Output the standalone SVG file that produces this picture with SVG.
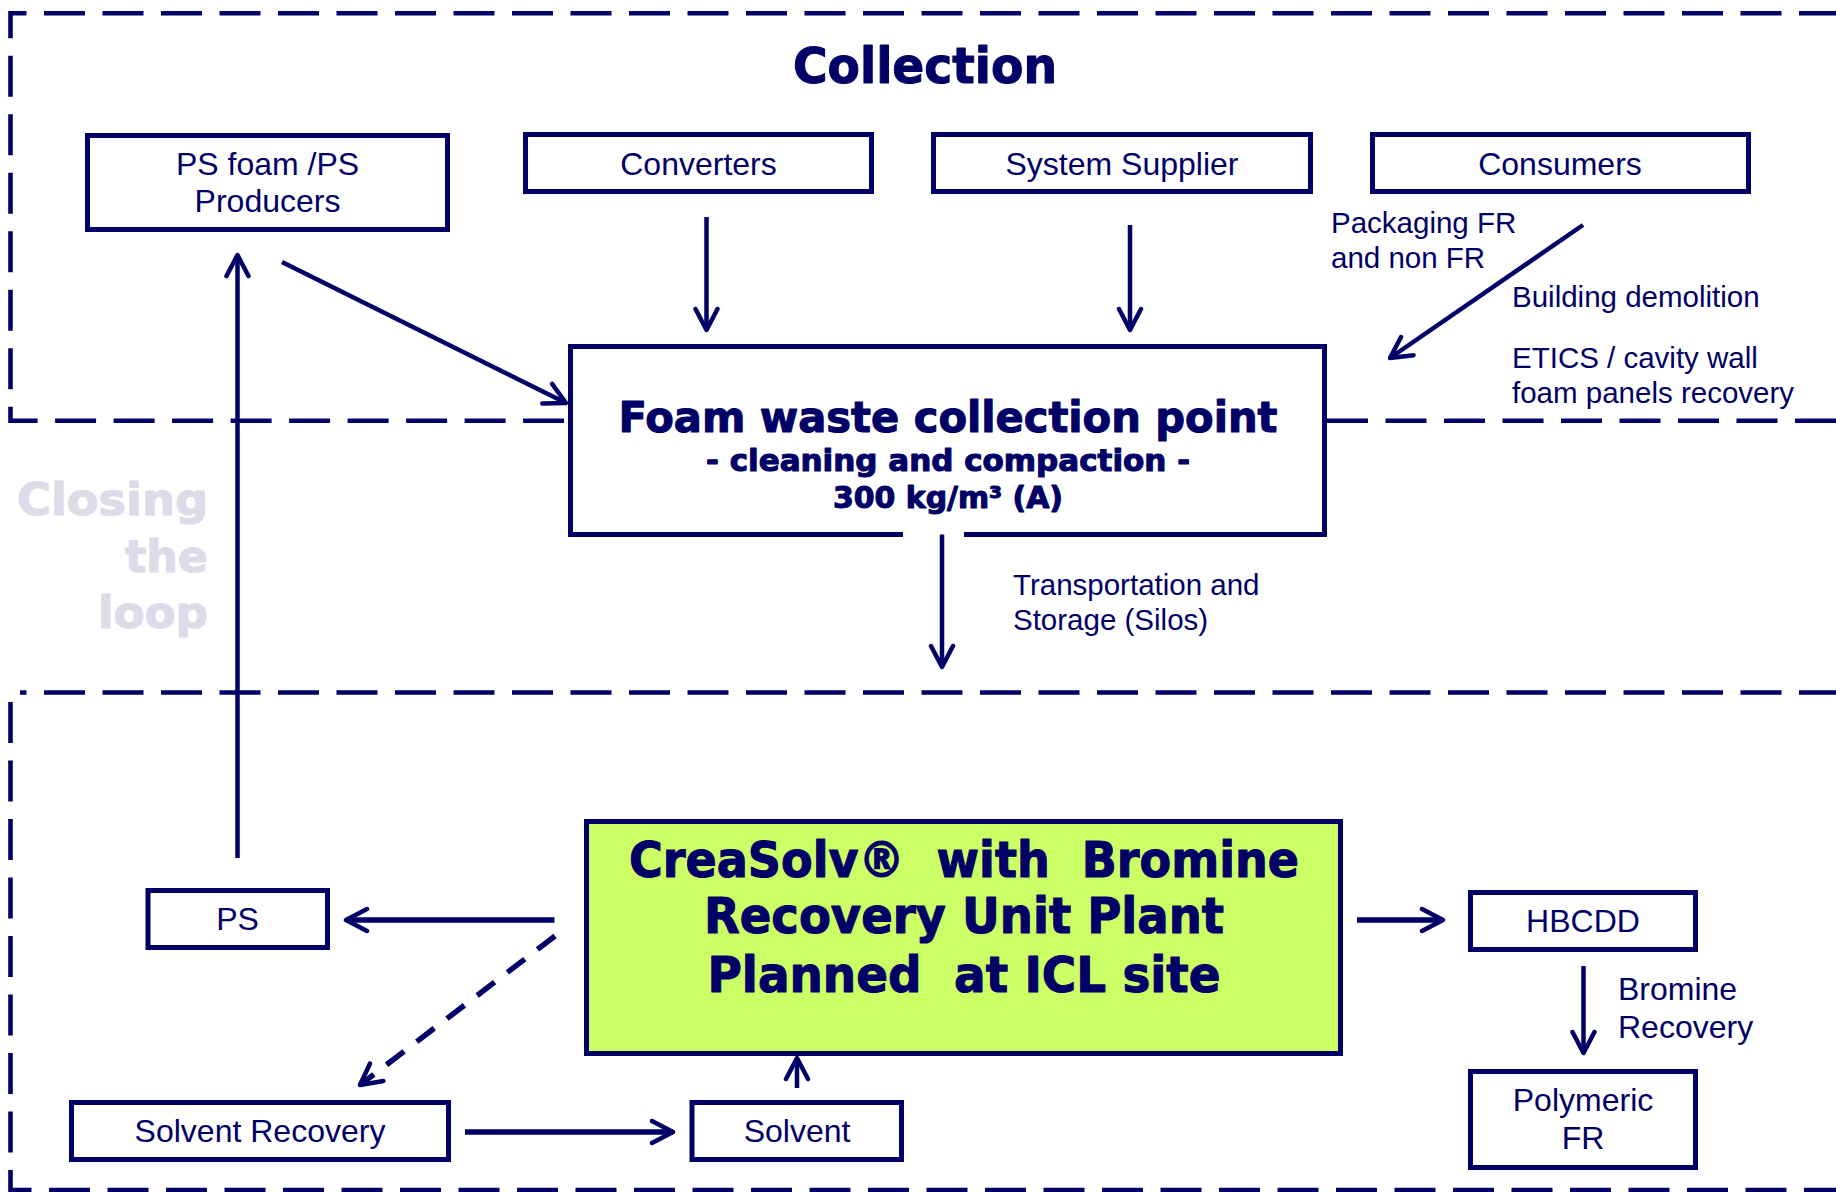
<svg xmlns="http://www.w3.org/2000/svg" width="1836" height="1192" viewBox="0 0 1836 1192">
<style>
.bg{fill:#ffffff}
.zone{fill:none;stroke:#000066;stroke-width:4.6;stroke-dasharray:41 17.5}
.box{fill:#ffffff;stroke:#000066;stroke-width:5}
.green{fill:#ccff66;stroke:#000066;stroke-width:5}
.edge{fill:none;stroke:#000066;stroke-width:4.5}
.thick{stroke-width:5.5}
.dash{stroke-dasharray:22 16}
.t{font-family:"Liberation Sans",Arial,sans-serif;fill:#000066;font-size:32px;text-anchor:middle}
.lbl{font-family:"Liberation Sans",Arial,sans-serif;fill:#000066;font-size:29.5px}
.lbl2{font-family:"Liberation Sans",Arial,sans-serif;fill:#000066;font-size:32px}
.b{font-family:"DejaVu Sans","Liberation Sans",sans-serif;font-weight:bold;fill:#000066;stroke:#000066;stroke-width:1.1;stroke-linejoin:round;text-anchor:middle;white-space:pre}
.loop{font-family:"DejaVu Sans","Liberation Sans",sans-serif;font-weight:bold;fill:#dcdce9;stroke:#dcdce9;stroke-width:1.2;stroke-linejoin:round;font-size:44px;text-anchor:end}
</style>
<defs>
<marker id="ah" viewBox="-26 -14 30 28" markerWidth="30" markerHeight="28" refX="0" refY="0" orient="auto" markerUnits="userSpaceOnUse">
<path d="M-21,-11 L0,0 L-21,11" fill="none" stroke="#000066" stroke-width="4.5" stroke-linecap="round" stroke-linejoin="round"/>
</marker>
</defs>
<rect class="bg" x="0" y="0" width="1836" height="1192"/>

<g id="zones">
<path class="zone" d="M1840,13.3 H10.5 V420.7 H569"/>
<path class="zone" d="M1327,420.7 H1840"/>
<path class="zone" d="M1840,692.5 H20"/>
<path class="zone" d="M10.5,702 V1190 H1840"/>
</g>

<text class="b" x="925" y="83" font-size="50" textLength="264" lengthAdjust="spacingAndGlyphs">Collection</text>
<g id="closing-label">
<text class="loop" x="208" y="515" textLength="191" lengthAdjust="spacingAndGlyphs">Closing</text>
<text class="loop" x="208" y="572" textLength="83" lengthAdjust="spacingAndGlyphs">the</text>
<text class="loop" x="208" y="628" textLength="110" lengthAdjust="spacingAndGlyphs">loop</text>
</g>

<g id="connectors">
<line class="edge" x1="282" y1="262" x2="566" y2="403" marker-end="url(#ah)"/>
<line class="edge" x1="706.5" y1="217" x2="706.5" y2="330" marker-end="url(#ah)"/>
<line class="edge" x1="1130" y1="225" x2="1130" y2="330" marker-end="url(#ah)"/>
<line class="edge" x1="1583" y1="225" x2="1390" y2="358" marker-end="url(#ah)"/>
<line class="edge" x1="942" y1="532" x2="942" y2="667" marker-end="url(#ah)"/>
<line class="edge" x1="237.5" y1="858" x2="237.5" y2="255" marker-end="url(#ah)"/>
<line class="edge thick" x1="554.5" y1="920" x2="346" y2="920" marker-end="url(#ah)"/>
<line class="edge thick dash" x1="555" y1="936" x2="360" y2="1085" marker-end="url(#ah)"/>
<line class="edge thick" x1="465" y1="1132" x2="673" y2="1132" marker-end="url(#ah)"/>
<line class="edge" x1="797" y1="1088" x2="797" y2="1058" marker-end="url(#ah)"/>
<line class="edge thick" x1="1357" y1="920" x2="1443" y2="920" marker-end="url(#ah)"/>
<line class="edge" x1="1583.5" y1="966" x2="1583.5" y2="1053" marker-end="url(#ah)"/>
</g>

<g id="ps-foam-producers">
<rect class="box" x="87.5" y="135.5" width="360" height="94"/>
<text class="t" x="267.5" y="175">PS foam /PS</text>
<text class="t" x="267.5" y="212">Producers</text>
</g>
<g id="converters">
<rect class="box" x="525.5" y="134.5" width="346" height="57"/>
<text class="t" x="698.5" y="175">Converters</text>
</g>
<g id="system-supplier">
<rect class="box" x="933.5" y="134.5" width="377" height="57"/>
<text class="t" x="1122" y="175">System Supplier</text>
</g>
<g id="consumers">
<rect class="box" x="1372.5" y="134.5" width="376" height="57"/>
<text class="t" x="1560" y="175">Consumers</text>
</g>

<g id="labels">
<text class="lbl" x="1331" y="233">Packaging FR</text>
<text class="lbl" x="1331" y="268">and non FR</text>
<text class="lbl" x="1512" y="307">Building demolition</text>
<text class="lbl" x="1512" y="368">ETICS / cavity wall</text>
<text class="lbl" x="1512" y="403">foam panels recovery</text>
<text class="lbl" x="1013" y="595">Transportation and</text>
<text class="lbl" x="1013" y="630">Storage (Silos)</text>
<text class="lbl2" x="1618" y="1000">Bromine</text>
<text class="lbl2" x="1618" y="1038">Recovery</text>
</g>

<g id="collection-point">
<rect x="570.5" y="346.5" width="754" height="188" fill="#ffffff"/>
<path class="edge" style="stroke-width:5" d="M903,534.5 H570.5 V346.5 H1324.5 V534.5 H964"/>
<text class="b" x="948" y="432" font-size="42.5" textLength="659" lengthAdjust="spacingAndGlyphs">Foam waste collection point</text>
<text class="b" x="948" y="471" font-size="29.5" textLength="484" lengthAdjust="spacingAndGlyphs">- cleaning and compaction -</text>
<text class="b" x="948" y="508" font-size="30" textLength="230" lengthAdjust="spacingAndGlyphs">300 kg/m³ (A)</text>
</g>

<g id="creasolv">
<rect class="green" x="586.5" y="821.5" width="754" height="232"/>
<text class="b" x="964" y="877" font-size="49" textLength="670" lengthAdjust="spacingAndGlyphs">CreaSolv®  with  Bromine</text>
<text class="b" x="964" y="933" font-size="49" textLength="520" lengthAdjust="spacingAndGlyphs">Recovery Unit Plant</text>
<text class="b" x="964" y="992" font-size="49" textLength="513" lengthAdjust="spacingAndGlyphs">Planned  at ICL site</text>
</g>

<g id="ps">
<rect class="box" x="148" y="890.5" width="179.5" height="57"/>
<text class="t" x="237.5" y="930">PS</text>
</g>
<g id="solvent-recovery">
<rect class="box" x="71.5" y="1102.5" width="377" height="57"/>
<text class="t" x="260" y="1142">Solvent Recovery</text>
</g>
<g id="solvent">
<rect class="box" x="692" y="1102.5" width="209.5" height="57"/>
<text class="t" x="797" y="1142">Solvent</text>
</g>
<g id="hbcdd">
<rect class="box" x="1470.5" y="892.5" width="225" height="57"/>
<text class="t" x="1583" y="932">HBCDD</text>
</g>
<g id="polymeric-fr">
<rect class="box" x="1470.5" y="1071.5" width="225" height="96"/>
<text class="t" x="1583" y="1111">Polymeric</text>
<text class="t" x="1583" y="1149">FR</text>
</g>
</svg>
